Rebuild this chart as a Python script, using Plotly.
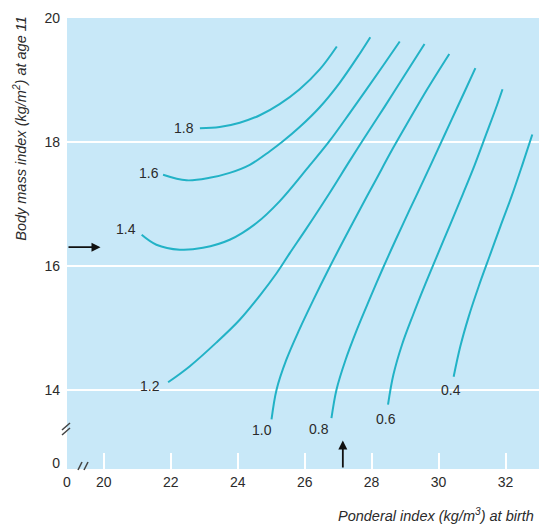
import plotly.graph_objects as go

# Contour levels and their traced paths (ponderal index at birth, BMI at age 11)
levels = [1.8, 1.6, 1.4, 1.2, 1.0, 0.8, 0.6, 0.4]

pi_18 = [22.87, 23.46, 24.06, 24.66, 25.25, 25.85, 26.45, 26.96]
bmi_18 = [18.22, 18.24, 18.31, 18.43, 18.61, 18.85, 19.17, 19.54]

pi_16 = [21.77, 22.47, 23.16, 23.76, 24.36, 24.96, 25.35, 25.85, 26.45, 27.04, 27.64, 27.96]
bmi_16 = [17.47, 17.38, 17.42, 17.50, 17.63, 17.85, 18.01, 18.24, 18.56, 18.95, 19.42, 19.69]

pi_14 = [21.13, 21.57, 22.27, 22.96, 23.76, 24.56, 25.25, 26.15, 26.75, 27.34, 28.34, 28.84]
bmi_14 = [16.50, 16.34, 16.26, 16.29, 16.42, 16.69, 17.04, 17.62, 18.02, 18.46, 19.23, 19.62]

pi_12 = [21.92, 22.57, 23.36, 24.06, 24.66, 25.16, 25.55, 26.05, 26.75, 27.34, 27.79, 28.39, 28.99, 29.58]
bmi_12 = [14.12, 14.38, 14.76, 15.13, 15.52, 15.88, 16.20, 16.60, 17.18, 17.69, 18.07, 18.57, 19.08, 19.58]

pi_10 = [25.01, 25.16, 25.45, 25.84, 26.26, 26.71, 27.17, 27.65, 28.13, 28.62, 29.13, 29.66, 30.32]
bmi_10 = [13.52, 14.00, 14.48, 14.97, 15.45, 15.94, 16.42, 16.91, 17.39, 17.88, 18.36, 18.85, 19.42]

pi_08 = [26.80, 26.95, 27.22, 27.56, 27.93, 28.32, 28.72, 29.14, 29.56, 29.98, 30.39, 30.81, 31.10]
bmi_08 = [13.54, 14.00, 14.48, 14.97, 15.45, 15.94, 16.42, 16.91, 17.39, 17.88, 18.36, 18.85, 19.19]

pi_06 = [28.49, 28.65, 28.91, 29.24, 29.60, 29.97, 30.35, 30.72, 31.08, 31.42, 31.75, 31.91]
bmi_06 = [13.76, 14.24, 14.73, 15.21, 15.70, 16.18, 16.67, 17.15, 17.63, 18.12, 18.60, 18.85]

pi_04 = [30.45, 30.65, 30.90, 31.20, 31.52, 31.85, 32.18, 32.49, 32.80]
bmi_04 = [14.21, 14.70, 15.18, 15.67, 16.15, 16.64, 17.12, 17.61, 18.12]

paths = {
    1.8: (pi_18, bmi_18),
    1.6: (pi_16, bmi_16),
    1.4: (pi_14, bmi_14),
    1.2: (pi_12, bmi_12),
    1.0: (pi_10, bmi_10),
    0.8: (pi_08, bmi_08),
    0.6: (pi_06, bmi_06),
    0.4: (pi_04, bmi_04),
}

# Axis ticks (axes are broken: the "0" sits just before the break)
x_ticks = [20, 22, 24, 26, 28, 30, 32]
x_tick_text = ["20", "22", "24", "26", "28", "30", "32"]
y_ticks = [14, 16, 18, 20]
y_tick_text = ["14", "16", "18", "20"]
zero_label = ["0"]

# Reference values marked by arrows
marked_bmi = 16.3
marked_pi = 27.14

# ---- styling / layout ----
x_range = [18.9, 33.0]
y_range = [12.72, 20.0]
x_zero_pos = x_range[0]
y_zero_pos = 12.82

line_color = "#22B2C6"
bg_color = "#C8E8F8"
text_color = "#2b2b2b"
font_family = "Liberation Sans Narrow, Arial Narrow, Liberation Sans, Arial, sans-serif"

# pixel offsets of each level label relative to the start of its path
label_offsets = {
    1.8: (-16, 0), 1.6: (-14, 2), 1.4: (-16, 6), 1.2: (-18, -4),
    1.0: (-10, -11), 0.8: (-12, -11), 0.6: (-2, -14), 0.4: (-3, -13),
}

fig = go.Figure()

for lvl in levels:
    xs, ys = paths[lvl]
    fig.add_trace(go.Scatter(
        x=xs, y=ys, mode="lines",
        line=dict(color=line_color, width=2, shape="spline", smoothing=1.0),
        hoverinfo="skip", showlegend=False,
    ))

# empty trace so the overlay axes carrying the "0" labels are drawn
fig.add_trace(go.Scatter(x=[], y=[], xaxis="x2", yaxis="y2", showlegend=False))

annotations = []
for lvl in levels:
    xs, ys = paths[lvl]
    dx, dy = label_offsets[lvl]
    annotations.append(dict(
        x=xs[0], y=ys[0], xref="x", yref="y", text=f"{lvl:.1f}",
        showarrow=False, xanchor="center", yanchor="middle",
        xshift=dx, yshift=dy,
        font=dict(family=font_family, size=14, color=text_color),
    ))

# arrows marking the reference values
annotations.append(dict(
    x=x_ticks[0] - 0.1, y=marked_bmi, ax=x_range[0], ay=marked_bmi,
    xref="x", yref="y", axref="x", ayref="y", text="", showarrow=True,
    arrowhead=2, arrowsize=1, arrowwidth=1.8, arrowcolor="#111111",
))
annotations.append(dict(
    x=marked_pi, y=13.18, ax=marked_pi, ay=y_range[0],
    xref="x", yref="y", axref="x", ayref="y", text="", showarrow=True,
    arrowhead=2, arrowsize=1, arrowwidth=1.8, arrowcolor="#111111",
))

# axis titles
annotations.append(dict(
    x=-0.1, y=1.01, xref="paper", yref="paper", textangle=-90,
    text="Body mass index (kg/m<sup>2</sup>) at age 11",
    showarrow=False, xanchor="center", yanchor="top",
    font=dict(family=font_family, size=14.5, color=text_color, style="italic"),
))
annotations.append(dict(
    x=0.994, y=-0.102, xref="paper", yref="paper",
    text="Ponderal index (kg/m<sup>3</sup>) at birth",
    showarrow=False, xanchor="right", yanchor="middle",
    font=dict(family=font_family, size=14.5, color=text_color, style="italic"),
))

# axis-break marks
def px_to_paper(px, py):
    return (px - 67) / 472, (469 - py) / 451

shapes = []
for seg in [((78, 470), (82, 462)), ((84, 470), (88, 462)),
            ((62, 430), (70, 423)), ((62, 435), (70, 428))]:
    (ax0, ay0), (ax1, ay1) = px_to_paper(*seg[0]), px_to_paper(*seg[1])
    shapes.append(dict(type="line", xref="paper", yref="paper",
                       x0=ax0, y0=ay0, x1=ax1, y1=ay1,
                       line=dict(color="#444444", width=1.5)))

tick_font = dict(family=font_family, size=14, color=text_color)

fig.update_layout(
    width=539, height=527,
    margin=dict(l=67, r=0, t=18, b=58),
    paper_bgcolor="white", plot_bgcolor=bg_color,
    showlegend=False,
    xaxis=dict(range=x_range, tickvals=x_ticks, ticktext=x_tick_text,
               ticks="inside", ticklen=16, tickwidth=2, tickcolor="white",
               showgrid=False, zeroline=False, showline=False,
               tickfont=tick_font, ticklabelstandoff=3),
    yaxis=dict(range=y_range, tickvals=y_ticks, ticktext=y_tick_text,
               ticks="", showgrid=True, gridcolor="white", gridwidth=2,
               zeroline=False, showline=False,
               tickfont=tick_font, ticklabelstandoff=6),
    xaxis2=dict(range=x_range, overlaying="x", anchor="y2",
                tickvals=[x_zero_pos], ticktext=zero_label, ticks="",
                showgrid=False, zeroline=False, showline=False,
                tickfont=tick_font, ticklabelstandoff=3),
    yaxis2=dict(range=y_range, overlaying="y", anchor="x2",
                tickvals=[y_zero_pos], ticktext=zero_label, ticks="",
                showgrid=False, zeroline=False, showline=False,
                tickfont=tick_font, ticklabelstandoff=6),
    annotations=annotations,
    shapes=shapes,
)

fig.write_html("out.html")
